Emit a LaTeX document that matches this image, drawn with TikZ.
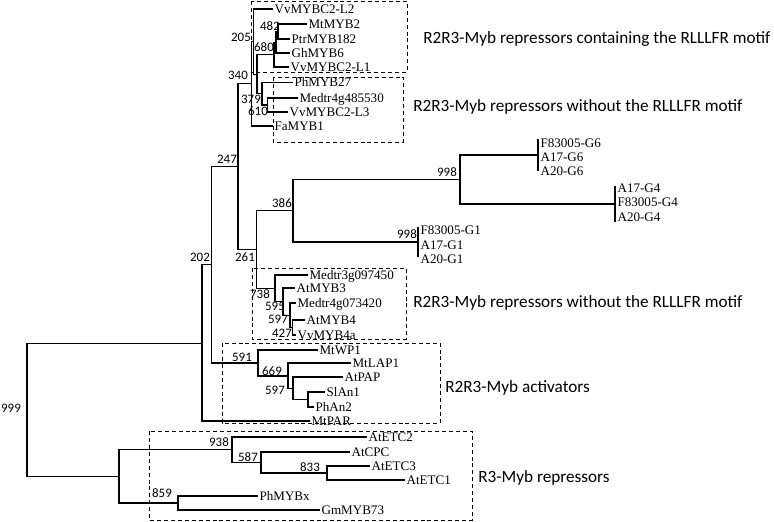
\documentclass[tikz,border=0pt]{standalone}
\usepackage{fontspec}
\setmainfont{Liberation Serif}
\newfontfamily\calib{Carlito}
\usepackage{tikz}

\tikzset{
  branch/.style={line width=0.9pt},
  leaf/.style={anchor=west, inner sep=1pt, font=\fontsize{9.8}{11}\selectfont, text height=6.5pt, text depth=0pt},
  boot/.style={inner sep=0pt, font=\calib\fontsize{9.7}{11}\selectfont},
  cladebox/.style={line width=0.75pt, dash pattern=on 3pt off 2.2pt},
  cladelabel/.style={anchor=base west, inner sep=0pt, font=\calib\fontsize{12.9}{15}\selectfont}
}

\begin{document}
\begin{tikzpicture}[x=0.75pt, y=-0.75pt]
    \useasboundingbox (0,0) rectangle (774,521);

    % Clade boxes
    \draw[cladebox] (251,1) rectangle (407,72);
    \draw[cladebox] (273,77) rectangle (403,142);
    \draw[cladebox] (252,268) rectangle (406,339);
    \draw[cladebox] (222,343) rectangle (440,423);
    \draw[cladebox] (149,431) rectangle (472,520);

    % Clade labels
    \node[cladelabel] (cl1) at (423,43) {R2R3-Myb repressors containing the RLLLFR motif};
    \node[cladelabel] (cl2) at (413,111) {R2R3-Myb repressors without the RLLLFR motif};
    \node[cladelabel] (cl3) at (413,307) {R2R3-Myb repressors without the RLLLFR motif};
    \node[cladelabel] (cl4) at (445,392) {R2R3-Myb activators};
    \node[cladelabel] (cl5) at (478,482) {R3-Myb repressors};

    % Internal nodes
    \coordinate (n999) at (27,409.8);
    \coordinate (nA) at (202,343.2);
    \coordinate (n202) at (211.7,264.8);
    \coordinate (n247) at (238,166.6);
    \coordinate (n340) at (251.5,83.8);
    \coordinate (n205) at (253.5,41.6);
    \coordinate (nU) at (257,74.2);
    \coordinate (n680) at (274,54.6);
    \coordinate (nQ) at (276,42.25);
    \coordinate (n482) at (278,31.5);
    \coordinate (n379) at (262,93.75);
    \coordinate (n610) at (267.5,105);
    \coordinate (n261) at (256.7,249.5);
    \coordinate (n386) at (293,210.75);
    \coordinate (n998a) at (460,179.5);
    \coordinate (g6) at (538,155);
    \coordinate (g4) at (615,204);
    \coordinate (g1) at (418,242);
    \coordinate (n738) at (275,288.3);
    \coordinate (n595) at (283,301.6);
    \coordinate (n597a) at (290,315.25);
    \coordinate (n427) at (292.7,327.5);
    \coordinate (n591) at (258,362.9);
    \coordinate (n669) at (288,375.9);
    \coordinate (n597b) at (293,388.75);
    \coordinate (nSP) at (308,399.5);
    \coordinate (nB) at (119,476.4);
    \coordinate (n938) at (232,449.7);
    \coordinate (n587) at (261,462.5);
    \coordinate (n833) at (327,473);
    \coordinate (n859) at (178,503);

    % Leaves
    \node[leaf] (VvMYBCLtwo) at (273,9) {VvMYBC2-L2};
    \node[leaf] (MtMYBtwo) at (307,24) {MtMYB2};
    \node[leaf] (PtrMYB) at (290,39) {PtrMYB182};
    \node[leaf] (GhMYB) at (290,53) {GhMYB6};
    \node[leaf] (VvMYBCLone) at (289,67) {VvMYBC2-L1};
    \node[leaf] (PhMYB) at (293,82.5) {PhMYB27};
    \node[leaf] (MedtrA) at (298,98) {Medtr4g485530};
    \node[leaf] (VvMYBCLthree) at (288,112) {VvMYBC2-L3};
    \node[leaf] (FaMYB) at (273,126) {FaMYB1};
    \node[leaf] (FGsix) at (539,143) {F83005-G6};
    \node[leaf] (AGsix) at (539,157) {A17-G6};
    \node[leaf] (BGsix) at (539,171) {A20-G6};
    \node[leaf] (AGfour) at (616,188) {A17-G4};
    \node[leaf] (FGfour) at (616,202) {F83005-G4};
    \node[leaf] (BGfour) at (616,217) {A20-G4};
    \node[leaf] (FGone) at (419,230) {F83005-G1};
    \node[leaf] (AGone) at (419,245) {A17-G1};
    \node[leaf] (BGone) at (419,259) {A20-G1};
    \node[leaf] (MedtrB) at (308,275) {Medtr3g097450};
    \node[leaf] (AtMYBthree) at (295,288) {AtMYB3};
    \node[leaf] (MedtrC) at (296,303) {Medtr4g073420};
    \node[leaf] (AtMYBfour) at (305,320) {AtMYB4};
    \node[leaf] (VvMYBfour) at (296,335) {VvMYB4a};
    \node[leaf] (MtWP) at (318,350) {MtWP1};
    \node[leaf] (MtLAP) at (351,363) {MtLAP1};
    \node[leaf] (AtPAP) at (343,377) {AtPAP};
    \node[leaf] (SlAn) at (325,392) {SlAn1};
    \node[leaf] (PhAn) at (314,407) {PhAn2};
    \node[leaf] (MtPAR) at (310,421) {MtPAR};
    \node[leaf] (AtETCtwo) at (367,437) {AtETC2};
    \node[leaf] (AtCPC) at (350,452) {AtCPC};
    \node[leaf] (AtETCthree) at (370,466) {AtETC3};
    \node[leaf] (AtETCone) at (405,480) {AtETC1};
    \node[leaf] (PhMYBx) at (258,496) {PhMYBx};
    \node[leaf] (GmMYB) at (320,510) {GmMYB73};

    % Branches
    \draw[branch] (n999) |- (nA);
    \draw[branch] (n999) |- (nB);
    \draw[branch] (nA) |- (n202);
    \draw[branch] (nA) |- (MtPAR.west);
    \draw[branch] (n202) |- (n247);
    \draw[branch] (n202) |- (n591);
    \draw[branch] (n247) |- (n340);
    \draw[branch] (n247) |- (n261);
    \draw[branch] (n340) |- (n205);
    \draw[branch] (n340) |- (FaMYB.west);
    \draw[branch] (n205) |- (VvMYBCLtwo.west);
    \draw[branch] (n205) |- (nU);
    \draw[branch] (nU) |- (n680);
    \draw[branch] (nU) |- (n379);
    \draw[branch] (n680) |- (nQ);
    \draw[branch] (n680) |- (VvMYBCLone.west);
    \draw[branch] (nQ) |- (n482);
    \draw[branch] (nQ) |- (GhMYB.west);
    \draw[branch] (n482) |- (MtMYBtwo.west);
    \draw[branch] (n482) |- (PtrMYB.west);
    \draw[branch] (n379) |- (PhMYB.west);
    \draw[branch] (n379) |- (n610);
    \draw[branch] (n610) |- (MedtrA.west);
    \draw[branch] (n610) |- (VvMYBCLthree.west);
    \draw[branch] (n261) |- (n386);
    \draw[branch] (n261) |- (n738);
    \draw[branch] (n386) |- (n998a);
    \draw[branch] (n386) |- (g1);
    \draw[branch] (n998a) |- (g6);
    \draw[branch] (n998a) |- (g4);
    \draw[branch] (g6) ++(0,-16) -- ++(0,32);
    \draw[branch] (g4) ++(0,-18) -- ++(0,36);
    \draw[branch] (g1) ++(0,-15) -- ++(0,30);
    \draw[branch] (n738) |- (MedtrB.west);
    \draw[branch] (n738) |- (n595);
    \draw[branch] (n595) |- (AtMYBthree.west);
    \draw[branch] (n595) |- (n597a);
    \draw[branch] (n597a) |- (MedtrC.west);
    \draw[branch] (n597a) |- (n427);
    \draw[branch] (n427) |- (AtMYBfour.west);
    \draw[branch] (n427) |- (VvMYBfour.west);
    \draw[branch] (n591) |- (MtWP.west);
    \draw[branch] (n591) |- (n669);
    \draw[branch] (n669) |- (MtLAP.west);
    \draw[branch] (n669) |- (n597b);
    \draw[branch] (n597b) |- (AtPAP.west);
    \draw[branch] (n597b) |- (nSP);
    \draw[branch] (nSP) |- (SlAn.west);
    \draw[branch] (nSP) |- (PhAn.west);
    \draw[branch] (nB) |- (n938);
    \draw[branch] (nB) |- (n859);
    \draw[branch] (n938) |- (AtETCtwo.west);
    \draw[branch] (n938) |- (n587);
    \draw[branch] (n587) |- (AtCPC.west);
    \draw[branch] (n587) |- (n833);
    \draw[branch] (n833) |- (AtETCthree.west);
    \draw[branch] (n833) |- (AtETCone.west);
    \draw[branch] (n859) |- (PhMYBx.west);
    \draw[branch] (n859) |- (GmMYB.west);

    % Bootstrap values
    \node[boot] (b999) at (11,408) {999};
    \node[boot] (b202) at (200,257) {202};
    \node[boot] (b247) at (227,159) {247};
    \node[boot] (b340) at (238,75) {340};
    \node[boot] (b205) at (241,37) {205};
    \node[boot] (b482) at (270,26) {482};
    \node[boot] (b680) at (264,47) {680};
    \node[boot] (b379) at (251,99) {379};
    \node[boot] (b610) at (258,111) {610};
    \node[boot] (b261) at (245,257) {261};
    \node[boot] (b386) at (282,203) {386};
    \node[boot] (b998a) at (447,172) {998};
    \node[boot] (b998b) at (407,234) {998};
    \node[boot] (b738) at (260,294) {738};
    \node[boot] (b595) at (275,306) {595};
    \node[boot] (b597a) at (278,319) {597};
    \node[boot] (b427) at (282,333) {427};
    \node[boot] (b591) at (242,357) {591};
    \node[boot] (b669) at (272,371) {669};
    \node[boot] (b597b) at (275,390) {597};
    \node[boot] (b938) at (219,442) {938};
    \node[boot] (b587) at (248,457) {587};
    \node[boot] (b833) at (310,467) {833};
    \node[boot] (b859) at (162,493) {859};
\end{tikzpicture}
\end{document}
